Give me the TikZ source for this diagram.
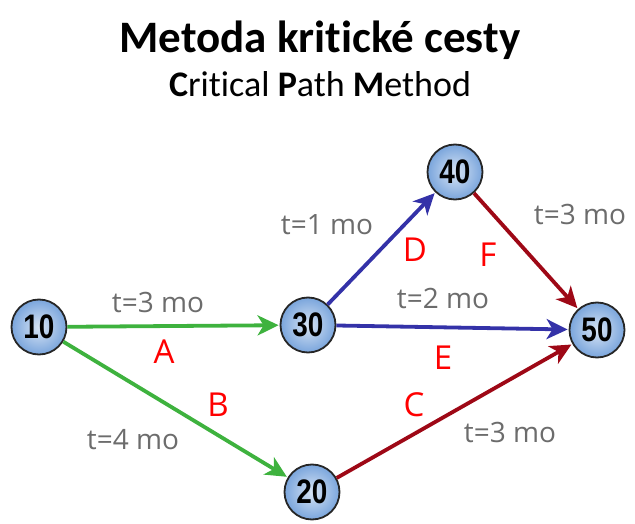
\documentclass[tikz,border=0pt]{standalone}
\usepackage{fontspec}
\setmainfont[Ligatures=NoCommon]{Carlito}
\newfontfamily\numfont[FakeStretch=0.82]{Liberation Sans}
\newfontfamily\labelfont{Open Sans}
\usetikzlibrary{arrows.meta}

\definecolor{pathgreen}{RGB}{62,178,62}
\definecolor{pathblue}{RGB}{52,50,168}
\definecolor{pathred}{RGB}{158,8,22}
\definecolor{nodeblue}{RGB}{122,165,220}
\definecolor{labelgray}{RGB}{108,108,108}

\begin{document}
\begin{tikzpicture}[x=1pt,y=1pt,
    event/.style={circle,draw=black!85,line width=1.8pt,minimum size=55pt,inner sep=0pt,
        inner color=nodeblue!30,outer color=nodeblue,font=\numfont\bfseries\fontsize{34}{34}\selectfont},
    task/.style={line width=3.8pt,-{Stealth[length=21pt,width=20pt,inset=6pt]},shorten >=1pt},
    dur/.style={text=labelgray,font=\labelfont\fontsize{28}{28}\selectfont},
    act/.style={text=red,font=\labelfont\fontsize{33}{33}\selectfont}]
    \useasboundingbox (0,0) rectangle (635,523);

    \node[anchor=base] (title) at (320,470) {\fontsize{45}{45}\selectfont\bfseries Metoda kritické cesty};
    \node[anchor=base] (subtitle) at (320,426) {\fontsize{36}{36}\selectfont\textbf{C}ritical \textbf{P}ath \textbf{M}ethod};

    % events
    \node[event] (e10) at (39,196) {10};
    \node[event] (e30) at (308,198) {30};
    \node[event] (e40) at (455,351) {40};
    \node[event] (e50) at (597,193) {50};
    \node[event] (e20) at (312,31) {20};

    % activities
    \draw[task,pathgreen] (e10) -- (e30);
    \draw[task,pathgreen] (e10) -- (e20);
    \draw[task,pathblue] (e30) -- (e40);
    \draw[task,pathblue] (e30) -- (e50);
    \draw[task,pathred] (e40) -- (e50);
    \draw[task,pathred] (e20) -- (e50);

    % durations and activity names
    \node[dur] (tA) at (158,221) {t=3 mo};
    \node[dur] (tB) at (133,83) {t=4 mo};
    \node[dur] (tD) at (327,298) {t=1 mo};
    \node[dur] (tE) at (443,225) {t=2 mo};
    \node[dur] (tF) at (580,308) {t=3 mo};
    \node[dur] (tC) at (510,91) {t=3 mo};

    \node[act] (A) at (164,171) {A};
    \node[act] (B) at (218,118) {B};
    \node[act] (C) at (414,118) {C};
    \node[act] (D) at (415,273) {D};
    \node[act] (E) at (443,165) {E};
    \node[act] (F) at (488,268) {F};
\end{tikzpicture}
\end{document}
